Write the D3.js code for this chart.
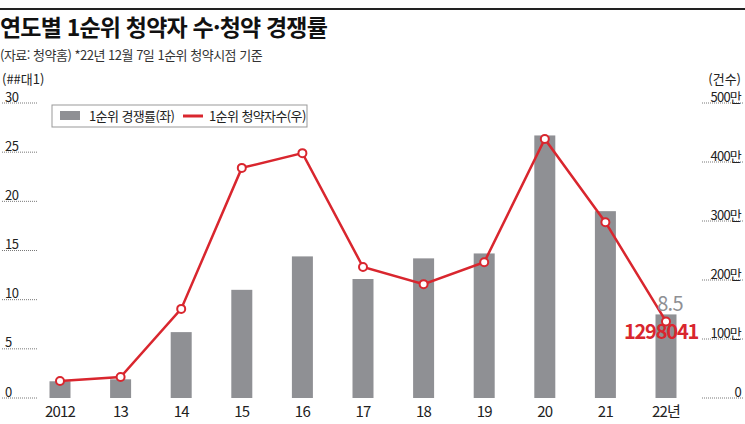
<!DOCTYPE html>
<html lang="ko">
<head>
<meta charset="utf-8">
<script src="https://d3js.org/d3.v7.min.js"></script>
<style>
  body { margin: 0; background: #fff; }
  svg text { font-family: "Noto Sans CJK KR", "Noto Sans", sans-serif; }
</style>
</head>
<body>
<script>
  const W = 745, H = 424

  // data
  const years = ["2012", "13", "14", "15", "16", "17", "18", "19", "20", "21", "22년"]
  const rate = [1.7, 1.9, 6.7, 11.0, 14.4, 12.1, 14.2, 14.7, 26.7, 19.0, 8.5]
  const applicants = [288000, 356000, 1510000, 3900000, 4150000, 2220000, 1930000, 2300000, 4390000, 2980000, 1298041]
  const leftTicks = [0, 5, 10, 15, 20, 25, 30]
  const rightTicks = [0, 1000000, 2000000, 3000000, 4000000, 5000000]

  const red = "#d9262e", gray = "#8f9094"

  const svg = d3.select("body").append("svg")
      .attr("width", W)
      .attr("height", H)

  // top rule
  svg.append("rect").attr("x", 0).attr("y", 8).attr("width", W).attr("height", 2).attr("fill", "#222")

  svg.append("text").attr("x", 0).attr("y", 36)
      .attr("font-size", 23).attr("font-weight", 700).attr("fill", "#111")
      .attr("letter-spacing", -0.8)
      .text("연도별 1순위 청약자 수·청약 경쟁률")
  svg.append("text").attr("x", 0).attr("y", 60)
      .attr("font-size", 13).attr("fill", "#333").attr("letter-spacing", -0.5)
      .text("(자료: 청약홈)  *22년 12월 7일 1순위 청약시점 기준")

  const x = d3.scalePoint().domain(years).range([60, 666])
  const yL = d3.scaleLinear().domain([0, 30]).range([398, 103])
  const yR = d3.scaleLinear().domain([0, 5000000]).range([398, 103])

  // left axis
  svg.append("text").attr("x", 2).attr("y", 84).attr("font-size", 13).attr("fill", "#222").text("(##대1)")
  const gl = svg.append("g")
  gl.selectAll("line").data(leftTicks).enter().append("line")
      .attr("x1", 2).attr("x2", 38)
      .attr("y1", d => yL(d)).attr("y2", d => yL(d))
      .attr("stroke", "#555").attr("stroke-width", 0.8).attr("stroke-dasharray", "1,1")
  gl.selectAll("text").data(leftTicks).enter().append("text")
      .attr("x", 5).attr("y", d => yL(d) - 1.5)
      .attr("font-size", 13).attr("fill", "#222").attr("letter-spacing", -0.5)
      .text(d => d)

  // right axis
  svg.append("text").attr("x", 741).attr("y", 84).attr("text-anchor", "end")
      .attr("font-size", 13).attr("fill", "#222").text("(건수)")
  const gr = svg.append("g")
  gr.selectAll("line").data(rightTicks).enter().append("line")
      .attr("x1", 702).attr("x2", 743)
      .attr("y1", d => yR(d)).attr("y2", d => yR(d))
      .attr("stroke", "#555").attr("stroke-width", 0.8).attr("stroke-dasharray", "1,1")
  gr.selectAll("text").data(rightTicks).enter().append("text")
      .attr("x", 741).attr("y", d => yR(d) - 1.5).attr("text-anchor", "end")
      .attr("font-size", 13).attr("fill", "#222").attr("letter-spacing", -0.8)
      .text(d => d === 0 ? "0" : (d / 10000) + "만")

  // bars
  const bw = 21
  svg.selectAll(".bar").data(rate).enter().append("rect")
      .attr("class", "bar")
      .attr("x", (d, i) => x(years[i]) - bw / 2)
      .attr("y", d => yL(d))
      .attr("width", bw)
      .attr("height", d => yL(0) - yL(d))
      .attr("fill", gray)

  // line
  const line = d3.line().x((d, i) => x(years[i])).y(d => yR(d))
  svg.append("path").datum(applicants)
      .attr("d", line).attr("fill", "none")
      .attr("stroke", red).attr("stroke-width", 2.5)
  svg.selectAll(".pt").data(applicants).enter().append("circle")
      .attr("class", "pt")
      .attr("cx", (d, i) => x(years[i])).attr("cy", d => yR(d))
      .attr("r", 4).attr("fill", "#fff").attr("stroke", red).attr("stroke-width", 2)

  // x labels
  svg.selectAll(".xl").data(years).enter().append("text")
      .attr("class", "xl")
      .attr("x", d => x(d)).attr("y", 417).attr("text-anchor", "middle")
      .attr("font-size", 15).attr("fill", "#222").attr("letter-spacing", -0.8)
      .text(d => d)

  // legend
  const lg = svg.append("g")
  lg.append("rect").attr("x", 52).attr("y", 105).attr("width", 255).attr("height", 22)
      .attr("fill", "#fff").attr("stroke", "#999").attr("stroke-width", 1)
  lg.append("rect").attr("x", 60).attr("y", 111).attr("width", 20).attr("height", 9).attr("fill", gray)
  lg.append("text").attr("x", 89).attr("y", 121).attr("font-size", 13).attr("fill", "#222")
      .attr("letter-spacing", -0.6).text("1순위 경쟁률(좌)")
  lg.append("line").attr("x1", 183).attr("x2", 203).attr("y1", 116).attr("y2", 116)
      .attr("stroke", red).attr("stroke-width", 3)
  lg.append("text").attr("x", 209).attr("y", 121).attr("font-size", 13).attr("fill", "#222")
      .attr("letter-spacing", -0.6).text("1순위 청약자수(우)")

  // last-year annotations
  const last = years.length - 1
  svg.append("text").attr("x", x(years[last]) + 4).attr("y", yL(rate[last]) - 3)
      .attr("text-anchor", "middle").attr("font-size", 20).attr("fill", gray)
      .attr("letter-spacing", -0.8).text(rate[last])
  svg.append("text").attr("x", x(years[last]) - 5).attr("y", yR(applicants[last]) + 18)
      .attr("text-anchor", "middle").attr("font-size", 20).attr("font-weight", 700).attr("fill", red)
      .attr("letter-spacing", -1.2).text(applicants[last])
</script>
</body>
</html>
